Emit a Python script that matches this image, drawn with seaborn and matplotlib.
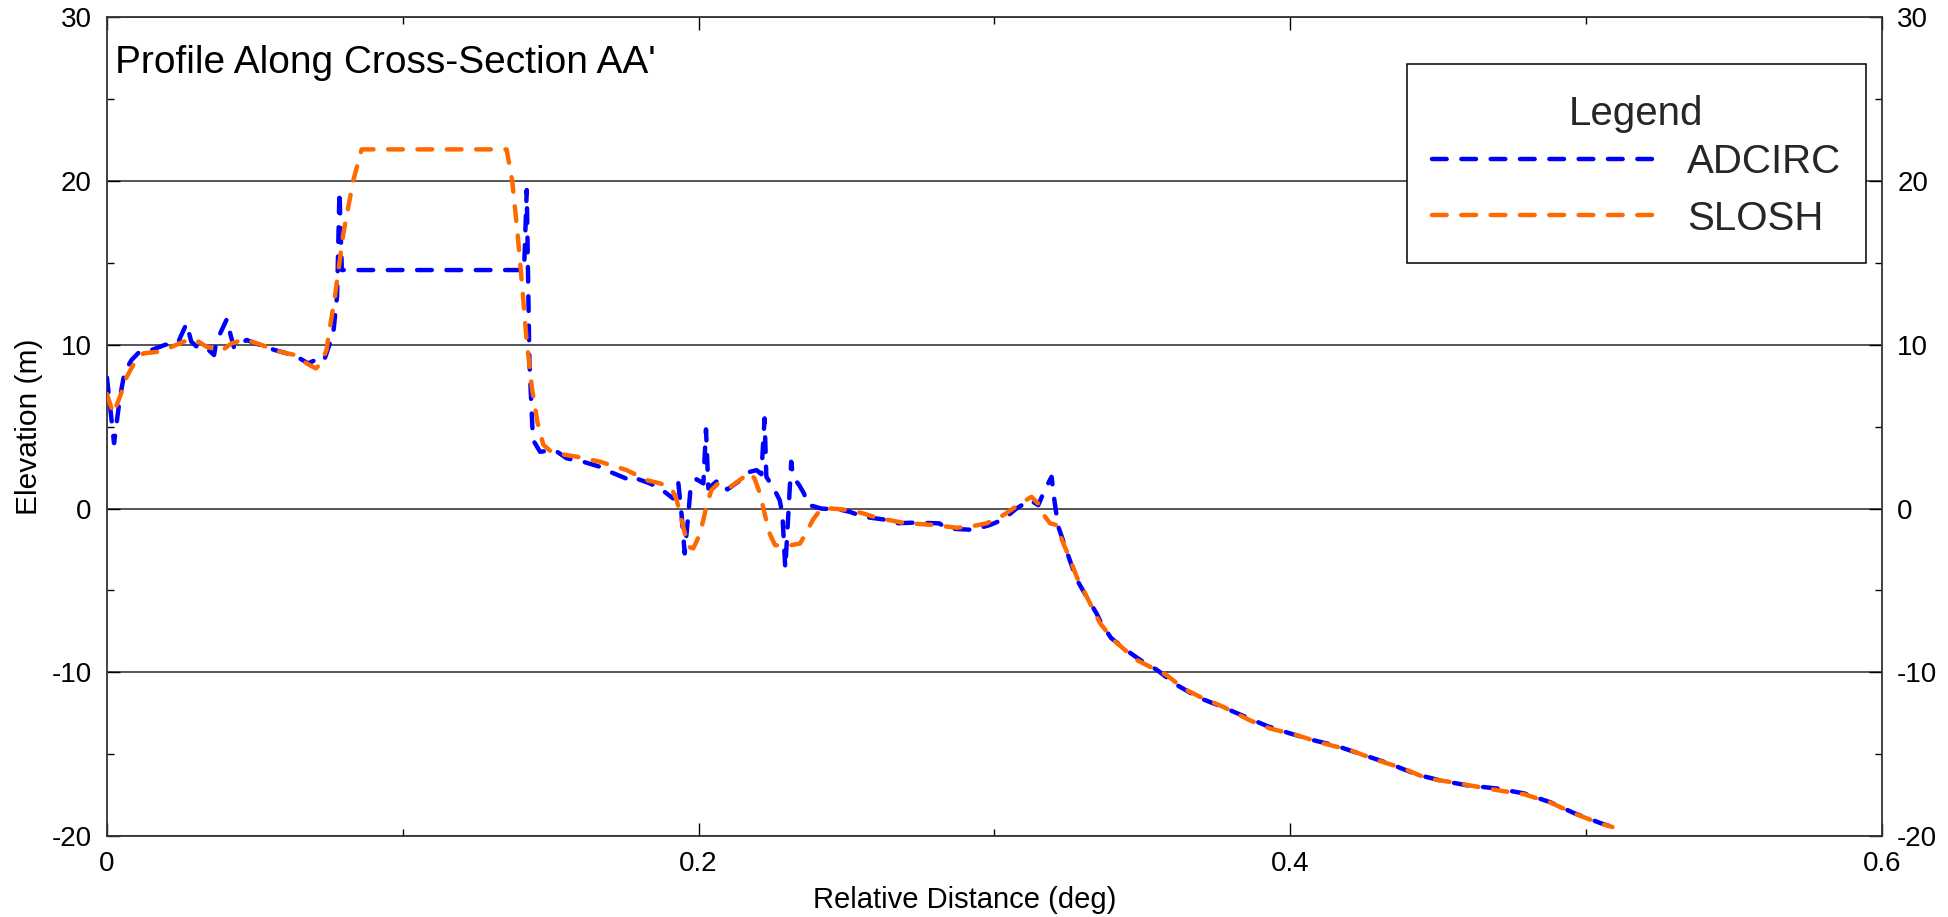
import matplotlib
matplotlib.use("Agg")
import matplotlib.pyplot as plt
from matplotlib.offsetbox import VPacker, DrawingArea
import numpy as np
import pandas as pd
import seaborn as sns

# ---------------- data ----------------
adcirc_dist = [0.0000, 0.0024, 0.0044, 0.0060, 0.0083, 0.0110, 0.0150, 0.0196, 0.0240, 0.0269,
               0.0285, 0.0310, 0.0337, 0.0362, 0.0370, 0.0405, 0.0418, 0.0430, 0.0472, 0.0517,
               0.0568, 0.0619, 0.0652, 0.0680, 0.0709, 0.0722, 0.0735, 0.0765, 0.0778, 0.0786,
               0.0794, 0.1410, 0.1419, 0.1428, 0.1440, 0.1464, 0.1514, 0.1554, 0.1610, 0.1667,
               0.1700, 0.1768, 0.1780, 0.1835, 0.1870, 0.1914, 0.1931, 0.1942, 0.1953, 0.1965,
               0.1973, 0.1993, 0.2016, 0.2025, 0.2033, 0.2066, 0.2097, 0.2134, 0.2174, 0.2196,
               0.2212, 0.2223, 0.2229, 0.2252, 0.2274, 0.2283, 0.2293, 0.2304, 0.2313, 0.2319,
               0.2340, 0.2356, 0.2370, 0.2387, 0.2415, 0.2477, 0.2511, 0.2557, 0.2624, 0.2664,
               0.2726, 0.2814, 0.2837, 0.2927, 0.2985, 0.3030, 0.3074, 0.3120, 0.3148, 0.3170,
               0.3193, 0.3201, 0.3209, 0.3214, 0.3244, 0.3277, 0.3312, 0.3345, 0.3361, 0.3394,
               0.3446, 0.3497, 0.3549, 0.3614, 0.3691, 0.3769, 0.3846, 0.3924, 0.4002, 0.4079,
               0.4157, 0.4248, 0.4338, 0.4429, 0.4506, 0.4597, 0.4700, 0.4791, 0.4881, 0.4959,
               0.5047, 0.5089]
adcirc_elev = [8.0, 4.0, 6.8, 8.35, 9.07, 9.58, 9.68, 10.0, 10.13, 11.3,
               10.2, 9.78, 9.8, 9.38, 10.2, 11.56, 10.6, 9.8, 10.3, 9.99,
               9.68, 9.42, 9.17, 8.87, 9.11, 9.25, 9.1, 10.7, 13.0, 19.4,
               14.57, 14.57, 19.46, 9.0, 4.2, 3.47, 3.57, 3.07, 2.86, 2.55,
               2.25, 1.74, 1.9, 1.54, 1.23, 0.62, 1.64, -0.3, -2.74, -0.4,
               1.3, 1.79, 1.54, 4.84, 1.23, 1.74, 1.17, 1.64, 2.25, 2.35,
               2.1, 5.51, 1.94, 1.3, 0.52, -0.3, -3.65, -0.09, 2.86, 1.94,
               1.43, 0.93, 0.21, 0.15, 0.0, -0.06, -0.2, -0.5, -0.66, -0.9,
               -0.86, -0.9, -1.21, -1.3, -1.0, -0.66, 0.0, 0.52, 0.21, 1.13,
               1.94, 0.72, -0.3, -1.0, -2.6, -4.3, -5.4, -6.4, -7.0, -7.9,
               -8.65, -9.3, -9.85, -10.75, -11.55, -12.1, -12.7, -13.3, -13.75, -14.15,
               -14.5, -15.05, -15.6, -16.25, -16.6, -16.9, -17.1, -17.4, -17.95, -18.6,
               -19.2, -19.45]

slosh_dist = [0.0000, 0.0021, 0.0044, 0.0067, 0.0095, 0.0123, 0.0173, 0.0219, 0.0258, 0.0297,
              0.0337, 0.0388, 0.0421, 0.0466, 0.0517, 0.0585, 0.0636, 0.0675, 0.0706, 0.0724,
              0.0742, 0.0754, 0.0769, 0.0799, 0.0833, 0.0861, 0.1351, 0.1370, 0.1388, 0.1404,
              0.1418, 0.1437, 0.1455, 0.1475, 0.1500, 0.1520, 0.1587, 0.1667, 0.1757, 0.1824,
              0.1870, 0.1909, 0.1926, 0.1948, 0.1965, 0.1982, 0.2005, 0.2026, 0.2043, 0.2066,
              0.2106, 0.2139, 0.2172, 0.2189, 0.2207, 0.2223, 0.2240, 0.2258, 0.2297, 0.2343,
              0.2365, 0.2387, 0.2415, 0.2453, 0.2511, 0.2557, 0.2601, 0.2692, 0.2793, 0.2872,
              0.2917, 0.2973, 0.3030, 0.3085, 0.3125, 0.3148, 0.3171, 0.3188, 0.3209, 0.3233,
              0.3256, 0.3278, 0.3312, 0.3357, 0.3402, 0.3481, 0.3526, 0.3582, 0.3638, 0.3695,
              0.3772, 0.3862, 0.3931, 0.4022, 0.4111, 0.4202, 0.4292, 0.4382, 0.4461, 0.4539,
              0.4620, 0.4700, 0.4791, 0.4881, 0.4959, 0.5047, 0.5089]
slosh_elev = [7.0, 5.8, 6.83, 8.05, 8.97, 9.48, 9.58, 9.88, 10.19, 10.34,
              9.88, 9.64, 10.09, 10.34, 10.03, 9.58, 9.38, 8.87, 8.56, 8.87,
              9.68, 11.1, 12.74, 16.8, 20.07, 21.94, 21.94, 20.0, 16.8, 13.5,
              10.4, 7.3, 5.3, 3.9, 3.5, 3.37, 3.17, 2.86, 2.35, 1.74,
              1.54, 1.23, 0.52, -1.11, -2.33, -2.43, -1.52, 0.1, 1.13, 1.54,
              1.3, 1.74, 2.19, 1.84, 0.93, -0.3, -1.52, -2.23, -2.29, -2.13,
              -1.42, -0.66, 0.0, 0.0, -0.1, -0.3, -0.55, -0.87, -1.0, -1.17,
              -1.11, -0.9, -0.4, 0.27, 0.72, 0.3, -0.5, -0.9, -1.0, -2.13,
              -3.1, -4.17, -5.39, -7.0, -8.03, -9.25, -9.66, -10.17, -10.98, -11.5,
              -12.1, -12.92, -13.43, -13.84, -14.34, -14.75, -15.36, -15.87, -16.48, -16.69,
              -16.95, -17.2, -17.45, -17.97, -18.62, -19.23, -19.45]

x_ticks = [0, 0.2, 0.4, 0.6]
x_tick_labels = ["0", "0.2", "0.4", "0.6"]
y_ticks = [-20, -10, 0, 10, 20, 30]
y_tick_labels = ["-20", "-10", "0", "10", "20", "30"]

# ---------------- style ----------------
sns.set_theme(style="white")
plt.rcParams["font.family"] = ["Liberation Sans", "DejaVu Sans"]

fig = plt.figure(figsize=(19.48, 9.17), dpi=100)
ax = fig.add_axes([0.0549, 0.0883, 0.9112, 0.8927])

df_a = pd.DataFrame({"dist": adcirc_dist, "elev": adcirc_elev})
df_s = pd.DataFrame({"dist": slosh_dist, "elev": slosh_elev})

dash = (0, (3.3, 3.3))
sns.lineplot(data=df_a, x="dist", y="elev", ax=ax, color="#0000FF", lw=3.2,
             sort=False, estimator=None, label="ADCIRC", linestyle=dash,
             dash_capstyle="round", zorder=3)
sns.lineplot(data=df_s, x="dist", y="elev", ax=ax, color="#FF6A00", lw=3.2,
             sort=False, estimator=None, label="SLOSH", linestyle=dash,
             dash_capstyle="round", zorder=4)

ax.set_xlim(0, 0.6)
ax.set_ylim(-20, 30)
ax.set_xticks(x_ticks)
ax.set_xticklabels(x_tick_labels)
ax.set_xticks([0.1, 0.3, 0.5], minor=True)
ax.set_yticks(y_ticks)
ax.set_yticklabels(y_tick_labels)
ax.set_yticks([-15, -5, 5, 15, 25], minor=True)

ax.yaxis.grid(True, which="major", color="#3a3a3a", lw=1.2)
ax.xaxis.grid(False)
ax.set_axisbelow(True)

ax.tick_params(which="both", direction="in", top=True, right=True, bottom=True, left=True,
               labelright=True, labelsize=20, colors="black", pad=11)
ax.tick_params(which="major", length=9.5, width=1.0)
ax.tick_params(which="minor", length=5, width=1.0)
for sp in ax.spines.values():
    sp.set_color("#333333")
    sp.set_linewidth(1.3)

ax.set_xlabel("Relative Distance (deg)", fontsize=21, color="black")
ax.set_ylabel("Elevation (m)", fontsize=21.5, color="black")
ax.xaxis.set_label_coords(0.483, -0.061)
ax.yaxis.set_label_coords(-0.036, 0.5)

ax.text(0.0045, 0.932, "Profile Along Cross-Section AA'", transform=ax.transAxes,
        fontsize=28, ha="left", va="baseline", color="black")

leg = ax.legend(title="Legend", loc="upper right", bbox_to_anchor=(0.991, 0.943),
                borderaxespad=0, fontsize=29, title_fontsize=29, frameon=True,
                fancybox=False, edgecolor="black", framealpha=1, handlelength=5.73,
                handletextpad=0.6, borderpad=0.62, labelspacing=0.46)
leg.get_frame().set_linewidth(1.1)
leg._legend_box.sep = 7
# a little extra space above the legend title
try:
    spacer = DrawingArea(1, 4.5, 0, 0)
    title_pack = VPacker(pad=0, sep=0, align="center",
                         children=[spacer, leg._legend_title_box])
    title_pack.set_figure(fig)
    spacer.set_figure(fig)
    leg._legend_box._children[0] = title_pack
except Exception:
    pass

fig.savefig("out.png", dpi=100)
